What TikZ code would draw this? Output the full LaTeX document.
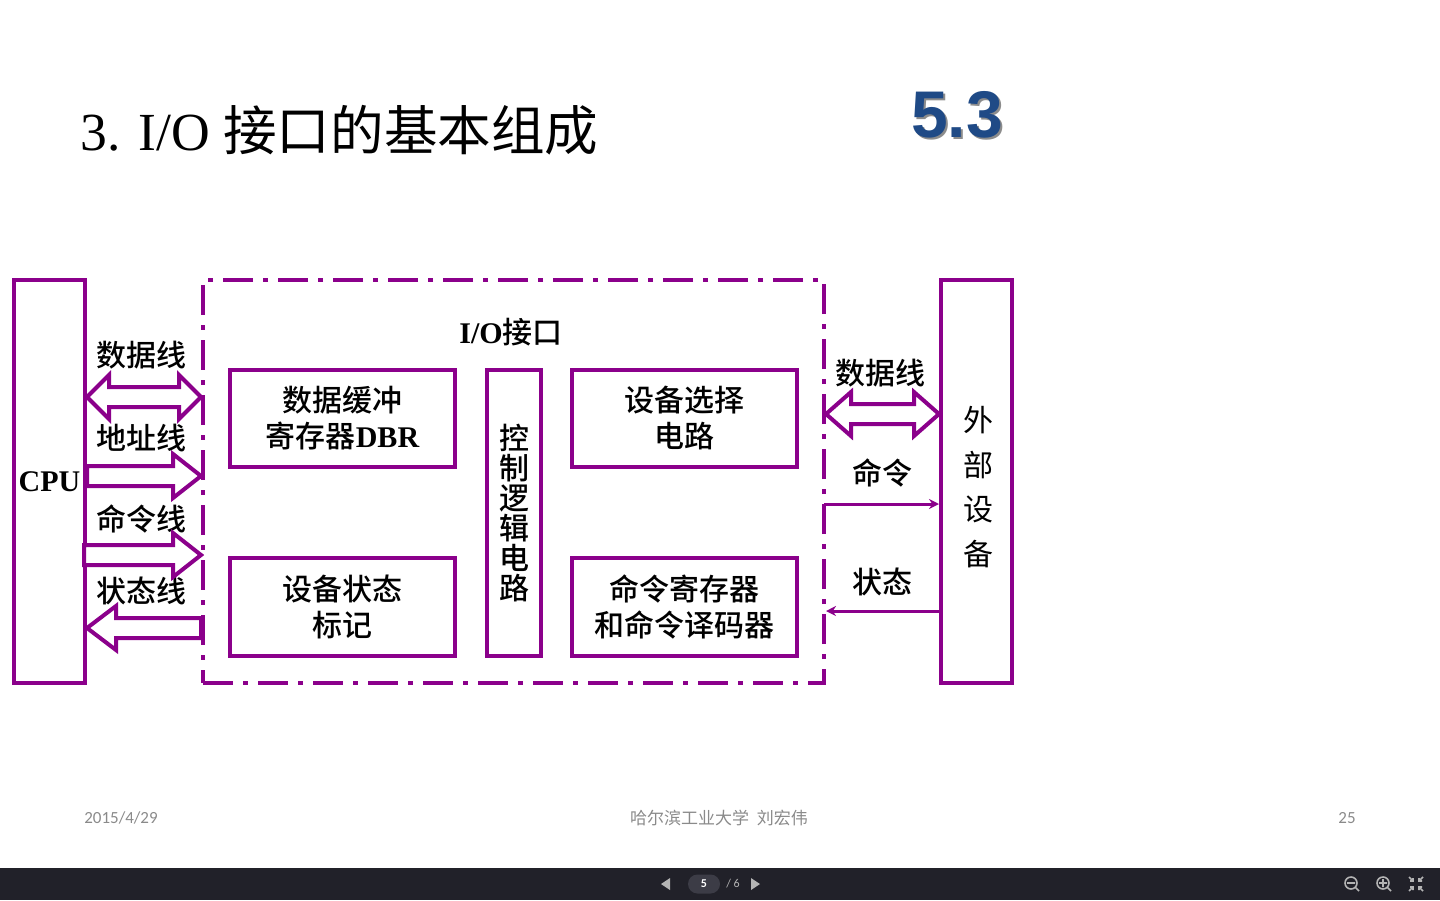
\documentclass[tikz,border=0pt]{standalone}
\usepackage{fontspec}
\setmainfont{Liberation Serif}
\newfontfamily\cjk{Noto Sans CJK SC}[BoldFont={Noto Sans CJK SC Medium}]
\newfontfamily\uisans{Carlito}
\newfontfamily\headsans{Liberation Sans}
\usetikzlibrary{arrows.meta, calc}
\definecolor{cpurple}{HTML}{8B008B}
\definecolor{cnavy}{HTML}{1F4A86}
\definecolor{cfoot}{HTML}{8A8A8A}
\definecolor{cbar}{HTML}{212129}
\definecolor{cpill}{HTML}{3C3C46}
\definecolor{cicon}{HTML}{B4B4B4}
\tikzset{
  every picture/.style={x=0.5pt, y=-0.5pt},
  blk/.style={draw=cpurple, line width=2pt, align=center, inner sep=0pt, font=\fontsize{15pt}{18pt}\selectfont\cjk\bfseries},
  iobox/.style={draw=cpurple, line width=2pt, dash pattern=on 15pt off 5pt on 2.5pt off 5pt, inner sep=0pt},
  lbl/.style={font=\fontsize{15pt}{18pt}\selectfont\cjk\bfseries},
  bus/.style={draw=cpurple, line width=2pt, fill=white},
  sig/.style={draw=cpurple, line width=1.5pt, -{Stealth[length=5pt, width=5pt]}},
  foot/.style={text=cfoot, font=\fontsize{8.5pt}{10pt}\selectfont\uisans},
  % hollow bus arrows, #1 = head length
  fatR/.style={to path={let \p1=(\tikztostart), \p2=(\tikztotarget) in
    (\x1,\y1+5pt) -- (\x2-#1,\y1+5pt) -- (\x2-#1,\y1+11pt) -- (\x2,\y1)
    -- (\x2-#1,\y1-11pt) -- (\x2-#1,\y1-5pt) -- (\x1,\y1-5pt) -- cycle}},
  fatL/.style={to path={let \p1=(\tikztostart), \p2=(\tikztotarget) in
    (\x1,\y1+5pt) -- (\x2+#1,\y1+5pt) -- (\x2+#1,\y1+11pt) -- (\x2,\y1)
    -- (\x2+#1,\y1-11pt) -- (\x2+#1,\y1-5pt) -- (\x1,\y1-5pt) -- cycle}},
  fatLR/.style={to path={let \p1=(\tikztostart), \p2=(\tikztotarget) in
    (\x1,\y1) -- (\x1+#1,\y1+11pt) -- (\x1+#1,\y1+5pt) -- (\x2-#1,\y1+5pt)
    -- (\x2-#1,\y1+11pt) -- (\x2,\y1) -- (\x2-#1,\y1-11pt) -- (\x2-#1,\y1-5pt)
    -- (\x1+#1,\y1-5pt) -- (\x1+#1,\y1-11pt) -- cycle}},
}
\begin{document}
\begin{tikzpicture}
  \useasboundingbox (0,0) rectangle (1440,900);

  % heading
  \node[anchor=base west, inner sep=0pt, font=\fontsize{26.8pt}{30pt}\selectfont] (title) at (80,150) {3. I/O {\cjk 接口的基本组成}};
  \node[text=black!45, font=\fontsize{33pt}{33pt}\selectfont\headsans\bfseries] (secsh) at (959,117) {5.3};
  \node[text=cnavy, font=\fontsize{33pt}{33pt}\selectfont\headsans\bfseries] (sec) at (957,115) {5.3};

  % outer blocks
  \node[blk, minimum width=35.5pt, minimum height=201.5pt] (cpu) at (49.5,481.5) {\rmfamily CPU};
  \node[iobox, minimum width=310.5pt, minimum height=201.5pt] (io) at (513.5,481.5) {};
  \node[blk, minimum width=35.5pt, minimum height=201.5pt] (dev) at (976.5,481.5) {};
  \node[align=center, font=\fontsize{15pt}{22.3pt}\selectfont\cjk] (devtxt) at (978,487) {外\\部\\设\\备};
  \node[font=\fontsize{15pt}{18pt}\selectfont\bfseries] (iotitle) at (511,332) {I/O{\cjk\bfseries 接口}};

  % inside the interface
  \node[blk, minimum width=112.5pt, minimum height=48.5pt] (dbr) at (342.5,418.5) {数据缓冲\\寄存器{\rmfamily DBR}};
  \node[blk, minimum width=112.5pt, minimum height=49pt] (flag) at (342.5,607) {设备状态\\标记};
  \node[blk, minimum width=27pt, minimum height=143pt, font=\fontsize{15pt}{15pt}\selectfont\cjk\bfseries] (ctl) at (514,513) {控\\制\\逻\\辑\\电\\路};
  \node[blk, minimum width=112.5pt, minimum height=48.5pt] (sel) at (684.5,418.5) {设备选择\\电路};
  \node[blk, minimum width=112.5pt, minimum height=49pt] (cmd) at (684.5,607) {命令寄存器\\和命令译码器};

  % CPU side
  \node[lbl] (ldata) at (141,355) {数据线};
  \node[lbl] (laddr) at (141,438) {地址线};
  \node[lbl] (lcmd)  at (141,519) {命令线};
  \node[lbl] (lstat) at (141,591) {状态线};
  \draw[bus] (cpu.east |- 0,397) to[fatLR=11pt] (io.west |- 0,397);
  \draw[bus] (cpu.east |- 0,476) to[fatR=14pt] (io.west |- 0,476);
  \draw[bus] ([xshift=-1.5pt]cpu.east |- 0,555) to[fatR=14pt] (io.west |- 0,555);
  \draw[bus] (io.west |- 0,628) to[fatL=14.5pt] (cpu.east |- 0,628);

  % device side
  \node[lbl] (rdata) at (880,373) {数据线};
  \node[lbl] (rcmd)  at (882,473) {命令};
  \node[lbl] (rstat) at (882,582) {状态};
  \draw[bus] (io.east |- 0,414) to[fatLR=12.5pt] (dev.west |- 0,414);
  \draw[sig] ([xshift=-1pt]io.east |- 0,504) -- (dev.west |- 0,504);
  \draw[sig] (dev.west |- 0,611) -- (io.east |- 0,611);

  % footer
  \node[foot] (date) at (121,818) {2015/4/29};
  \node[foot, font=\fontsize{8.5pt}{10pt}\selectfont\cjk] (author) at (719,818) {哈尔滨工业大学\ \ 刘宏伟};
  \node[foot] (page) at (1347,818) {25};

  % viewer bar
  \fill[cbar] (0,868) rectangle (1440,900);
  \fill[cicon] (670,878) -- (670,890) -- (661,884) -- cycle;
  \node[fill=cpill, rounded corners=4.75pt, minimum width=16pt, minimum height=9.5pt, inner sep=0pt, text=white, font=\fontsize{6pt}{7pt}\selectfont\uisans\bfseries] (pill) at (704,884) {5};
  \node[text=cicon, font=\fontsize{6pt}{7pt}\selectfont\uisans] (total) at (733,884) {/ 6};
  \fill[cicon] (751,878) -- (751,890) -- (760,884) -- cycle;
  \begin{scope}[draw=cicon, line width=0.8pt]
    \draw (1351,883) circle (3pt) (1355,887) -- (1359,891) (1347,883) -- (1355,883);
    \draw (1383,883) circle (3pt) (1387,887) -- (1391,891) (1379,883) -- (1387,883) (1383,879) -- (1383,887);
    \draw (1409,877) -- (1413,881) (1410,881) -- (1413,881) -- (1413,878);
    \draw (1423,877) -- (1419,881) (1422,881) -- (1419,881) -- (1419,878);
    \draw (1409,891) -- (1413,887) (1410,887) -- (1413,887) -- (1413,890);
    \draw (1423,891) -- (1419,887) (1422,887) -- (1419,887) -- (1419,890);
  \end{scope}
\end{tikzpicture}
\end{document}
